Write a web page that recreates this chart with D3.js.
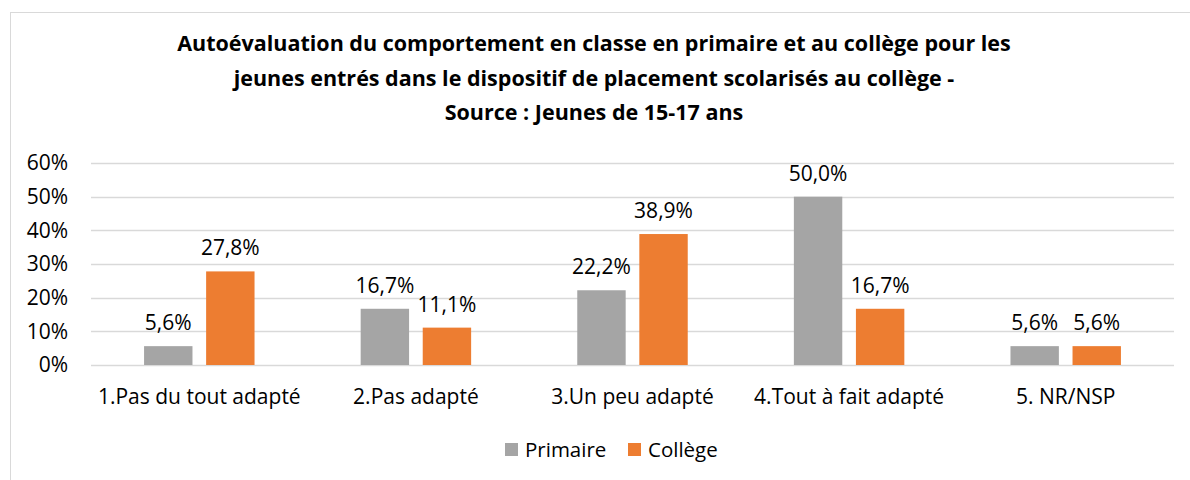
<!DOCTYPE html>
<html>
<head>
<meta charset="utf-8">
<script src="https://cdn.jsdelivr.net/npm/d3@7"></script>
<style>
  body { margin: 0; background: #fff; }
  svg text { font-family: "Open Sans", sans-serif; fill: #000; }
</style>
</head>
<body>
<div id="chart"></div>
<script>
// data
const categories = ['1.Pas du tout adapté', '2.Pas adapté', '3.Un peu adapté', '4.Tout à fait adapté', '5. NR/NSP'];
const primaire = [5.6, 16.7, 22.2, 50.0, 5.6];
const college = [27.8, 11.1, 38.9, 16.7, 5.6];
const seriesNames = ['Primaire', 'Collège'];
const yTicks = [0, 10, 20, 30, 40, 50, 60];
const titleLines = [
    'Autoévaluation du comportement en classe en primaire et au collège pour les',
    'jeunes entrés dans le dispositif de placement scolarisés au collège -',
    'Source : Jeunes de 15-17 ans'
];

const width = 1190, height = 480;
const colors = ['#a5a5a5', '#ed7d31'];
const margin = { left: 91, right: 16, top: 163, bottom: 115 };
const font = '"Open Sans", sans-serif';

const svg = d3.select('#chart').append('svg')
    .attr('width', width)
    .attr('height', height);

// chart frame
svg.append('rect')
    .attr('x', 10.5).attr('y', 12.5)
    .attr('width', width + 10).attr('height', height + 10)
    .attr('fill', 'none')
    .attr('stroke', '#d9d9d9');

// title
svg.append('g').selectAll('text')
    .data(titleLines)
    .join('text')
    .attr('x', 594)
    .attr('y', (d, i) => 51 + i * 34.5)
    .attr('text-anchor', 'middle')
    .attr('font-size', 21.5)
    .attr('font-weight', 'bold')
    .text(d => d);

const x = d3.scaleBand()
    .domain(categories)
    .range([margin.left, width - margin.right])
    .paddingInner(0.49)
    .paddingOuter(0.245);

const xSub = d3.scaleBand()
    .domain(seriesNames)
    .range([0, x.bandwidth()])
    .paddingInner(0.22);

const y = d3.scaleLinear()
    .domain([0, 60])
    .range([height - margin.bottom, margin.top]);

// gridlines
svg.append('g')
    .selectAll('line')
    .data(yTicks)
    .join('line')
    .attr('x1', margin.left)
    .attr('x2', width - margin.right)
    .attr('y1', d => Math.round(y(d)) + 0.5)
    .attr('y2', d => Math.round(y(d)) + 0.5)
    .attr('stroke', '#d9d9d9')
    .attr('stroke-width', 1.3);

// y axis labels
const yAxis = d3.axisLeft(y)
    .tickValues(yTicks)
    .tickFormat(d => d + '%')
    .tickSize(0)
    .tickPadding(23);

svg.append('g')
    .attr('transform', `translate(${margin.left},0)`)
    .call(yAxis)
    .call(g => g.select('.domain').remove())
    .call(g => g.selectAll('text')
        .attr('font-size', 21)
        .attr('fill', '#000')
        .attr('font-family', font));

// x axis labels
const xAxis = d3.axisBottom(x).tickSize(0).tickPadding(24);
svg.append('g')
    .attr('transform', `translate(0,${y(0)})`)
    .call(xAxis)
    .call(g => g.select('.domain').remove())
    .call(g => g.selectAll('text')
        .attr('font-size', 21)
        .attr('fill', '#000')
        .attr('font-family', font));

// bars
const rows = categories.map((c, i) => ({
    cat: c,
    values: [
        { name: seriesNames[0], v: primaire[i] },
        { name: seriesNames[1], v: college[i] }
    ]
}));

const groups = svg.append('g')
    .selectAll('g')
    .data(rows)
    .join('g')
    .attr('transform', d => `translate(${x(d.cat)},0)`);

groups.selectAll('rect')
    .data(d => d.values)
    .join('rect')
    .attr('x', d => xSub(d.name))
    .attr('y', d => y(d.v))
    .attr('width', xSub.bandwidth())
    .attr('height', d => y(0) - y(d.v))
    .attr('fill', (d, i) => colors[i]);

groups.selectAll('text.val')
    .data(d => d.values)
    .join('text')
    .attr('class', 'val')
    .attr('x', d => xSub(d.name) + xSub.bandwidth() / 2)
    .attr('y', d => y(d.v) - 16)
    .attr('text-anchor', 'middle')
    .attr('font-size', 21)
    .text(d => d.v.toFixed(1).replace('.', ',') + '%');

// legend
const legendX = [505, 628];
const legend = svg.append('g')
    .selectAll('g')
    .data(seriesNames)
    .join('g')
    .attr('transform', (d, i) => `translate(${legendX[i]},443)`);

legend.append('rect')
    .attr('width', 13).attr('height', 13)
    .attr('fill', (d, i) => colors[i]);

legend.append('text')
    .attr('x', 20)
    .attr('y', 14)
    .attr('font-size', 20.5)
    .text(d => d);
</script>
</body>
</html>
